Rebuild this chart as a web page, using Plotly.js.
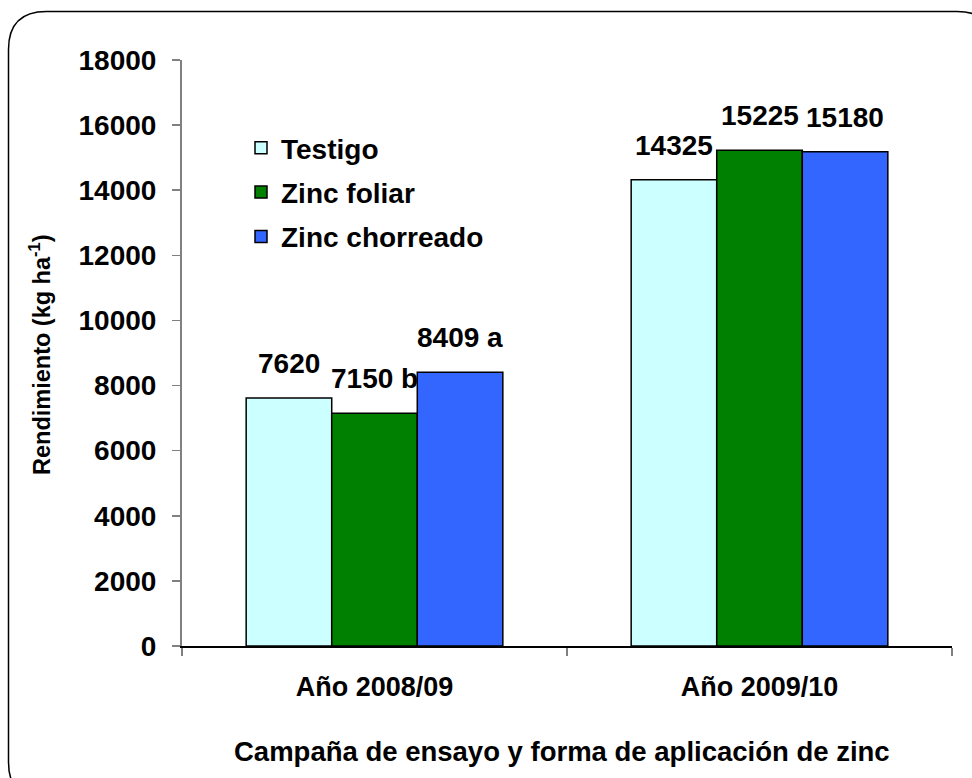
<!DOCTYPE html>
<html>
<head>
<meta charset="utf-8">
<script src="https://cdn.plot.ly/plotly-3.0.1.min.js"></script>
<style>html,body{margin:0;padding:0;background:#fff;overflow:hidden;}#chart{width:972px;height:778px;}</style>
</head>
<body>
<div id="chart"></div>
<script>
var categories = ["Año 2008/09", "Año 2009/10"];
var seriesNames = ["Testigo", "Zinc foliar", "Zinc chorreado"];
var testigo = [7620, 14325];
var zincFoliar = [7150, 15225];
var zincChorreado = [8409, 15180];
var labelsTestigo = ["7620", "14325"];
var labelsFoliar = ["7150 b", "15225"];
var labelsChorreado = ["8409 a", "15180"];
var colors = ["#CCFFFF", "#008000", "#3366FF"];

var FONT = "Liberation Sans, Arial, sans-serif";
var W = 972, H = 778;
var M = {l: 182, r: 20, t: 60, b: 132};
var pw = W - M.l - M.r, ph = H - M.t - M.b;
function px(x){ return (x - M.l) / pw; }
function py(y){ return (H - M.b - y) / ph; }

var seriesVals = [testigo, zincFoliar, zincChorreado];
var seriesLabels = [labelsTestigo, labelsFoliar, labelsChorreado];

var traces = seriesVals.map(function(vals, i){
  return {
    type: 'bar', name: seriesNames[i], x: categories, y: vals,
    marker: {color: colors[i], line: {color: '#000', width: 1.5}},
    legendgroup: 'g' + i, hoverinfo: 'skip'
  };
});

var bargap = 1/3;
var barW = (1 - bargap) / 3;
var annotations = [];
seriesVals.forEach(function(vals, i){
  vals.forEach(function(v, j){
    annotations.push({
      xref: 'x', yref: 'y', x: j + (i - 1) * barW, y: v,
      text: seriesLabels[i][j], showarrow: false, xanchor: 'center', yanchor: 'bottom', yshift: 17,
      font: {family: FONT, size: 28, color: '#000', weight: 'bold'}
    });
  });
});
annotations.push({
  xref: 'paper', yref: 'paper', x: px(40), y: py(355), xanchor: 'center', yanchor: 'middle', textangle: -90,
  text: 'Rendimiento (kg ha<sup>-1</sup>)', showarrow: false,
  font: {family: FONT, size: 23.5, color: '#000', weight: 'bold'}
});
annotations.push({
  xref: 'paper', yref: 'paper', x: px(562), y: py(751), xanchor: 'center', yanchor: 'middle',
  text: 'Campaña de ensayo y forma de aplicación de zinc', showarrow: false,
  font: {family: FONT, size: 27.5, color: '#000', weight: 'bold'}
});

var L = 8.5, T = 11.5, R = 995, B = 800, r = 38;
var path = 'M' + px(L) + ',' + py(T + r) +
  ' Q' + px(L) + ',' + py(T) + ' ' + px(L + r) + ',' + py(T) +
  ' L' + px(R - r) + ',' + py(T) +
  ' Q' + px(R) + ',' + py(T) + ' ' + px(R) + ',' + py(T + r) +
  ' L' + px(R) + ',' + py(B - r) +
  ' Q' + px(R) + ',' + py(B) + ' ' + px(R - r) + ',' + py(B) +
  ' L' + px(L + r) + ',' + py(B) +
  ' Q' + px(L) + ',' + py(B) + ' ' + px(L) + ',' + py(B - r) + ' Z';

var layout = {
  width: W, height: H, margin: M,
  paper_bgcolor: '#fff', plot_bgcolor: '#fff',
  barmode: 'group', bargap: bargap, bargroupgap: 0,
  showlegend: true,
  legend: {
    x: px(241), y: py(123), xanchor: 'left', yanchor: 'top',
    bgcolor: 'rgba(0,0,0,0)', tracegroupgap: 5,
    font: {family: FONT, size: 28, color: '#000', weight: 'bold'}
  },
  xaxis: {
    type: 'category', showline: true, linecolor: '#000', linewidth: 1.5,
    ticks: 'outside', tickson: 'boundaries', ticklen: 8, tickcolor: '#808080', tickwidth: 2,
    ticklabelstandoff: 16, showgrid: false, zeroline: false,
    tickfont: {family: FONT, size: 27, color: '#000', weight: 'bold'}
  },
  yaxis: {
    range: [0, 18000], dtick: 2000, tickformat: 'd', showline: true, linecolor: '#808080', linewidth: 2,
    ticks: 'outside', ticklen: 8, tickcolor: '#808080', tickwidth: 1.5,
    ticklabelstandoff: 10, showgrid: false, zeroline: false,
    tickfont: {family: FONT, size: 28, color: '#000', weight: 'bold'}
  },
  annotations: annotations,
  shapes: [{type: 'path', xref: 'paper', yref: 'paper', path: path, line: {color: '#000', width: 1.5}, fillcolor: 'rgba(0,0,0,0)', layer: 'below'}]
};

Plotly.newPlot('chart', traces, layout, {displayModeBar: false, staticPlot: true});
</script>
</body>
</html>
